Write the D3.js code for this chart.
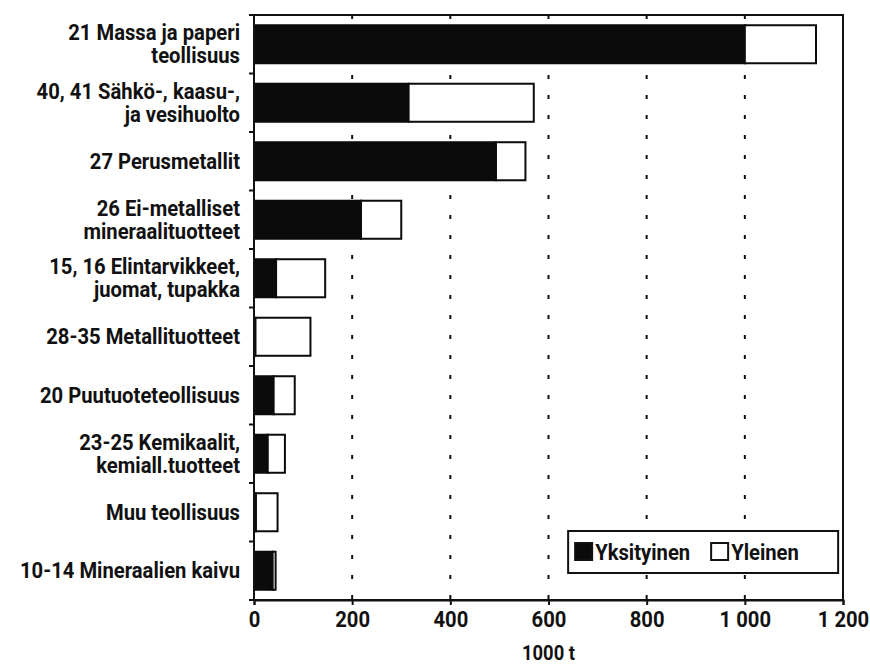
<!DOCTYPE html>
<html>
<head>
<meta charset="utf-8">
<script src="https://cdn.jsdelivr.net/npm/d3@7"></script>
<style>
  body { margin: 0; background: #fff; }
  text { font-family: Roboto, "Liberation Sans", sans-serif; font-weight: bold; fill: #111; }
</style>
</head>
<body>
<div id="svg"></div>
<script>
var width = 870;
var height = 666;

// categories, top to bottom (each entry = lines of the label)
var categories = [
	['21 Massa ja paperi', 'teollisuus'],
	['40, 41 Sähkö-, kaasu-,', 'ja vesihuolto'],
	['27 Perusmetallit'],
	['26 Ei-metalliset', 'mineraalituotteet'],
	['15, 16 Elintarvikkeet,', 'juomat, tupakka'],
	['28-35 Metallituotteet'],
	['20 Puutuoteteollisuus'],
	['23-25 Kemikaalit,', 'kemiall.tuotteet'],
	['Muu teollisuus'],
	['10-14 Mineraalien kaivu']
];
var yksityinen = [1000, 315, 493, 218, 45, 3, 40, 28, 4, 38];
var yleinen    = [145, 255, 60, 82, 100, 112, 43, 35, 44, 6];
var series_names = ['Yksityinen', 'Yleinen'];
var x_ticks = [0, 200, 400, 600, 800, 1000, 1200];
var x_title = '1000 t';

var margin = {top: 15, right: 27, bottom: 66, left: 254};
var squeeze = 'scale(0.92,1)'; // condensed look of the original typeface

var canvas = d3.select('#svg')
	.append('svg')
	.attr('width', width)
	.attr('height', height);

function main()
{
	var iw = width - margin.left - margin.right;
	var ih = height - margin.top - margin.bottom;

	var x = d3.scaleLinear().domain([0, 1200]).range([0, iw]);
	var y = d3.scaleBand().domain(d3.range(categories.length)).range([0, ih]).paddingInner(0.35).paddingOuter(0.175);

	var g = canvas.append('g').attr('transform', 'translate(' + margin.left + ',' + margin.top + ')');

	// dotted vertical grid
	g.selectAll('.grid')
		.data(x_ticks.filter((d) => d > 0 && d < 1200))
		.enter().append('line')
		.attr('x1', (d) => x(d)).attr('x2', (d) => x(d))
		.attr('y1', 0).attr('y2', ih)
		.attr('stroke', '#111').attr('stroke-width', 2)
		.attr('stroke-dasharray', '4,16');

	// stacked bars
	var rows = categories.map((c, i) => ({i: i, a: yksityinen[i], b: yleinen[i]}));
	var bar = g.selectAll('.bar').data(rows).enter().append('g');
	bar.append('rect')
		.attr('x', x(0))
		.attr('y', (d) => y(d.i))
		.attr('width', (d) => x(d.a) - x(0))
		.attr('height', y.bandwidth())
		.attr('fill', '#0b0b0b').attr('stroke', '#0b0b0b').attr('stroke-width', 2);
	bar.append('rect')
		.attr('x', (d) => x(d.a))
		.attr('y', (d) => y(d.i))
		.attr('width', (d) => x(d.a + d.b) - x(d.a))
		.attr('height', y.bandwidth())
		.attr('fill', '#fff').attr('stroke', '#0b0b0b').attr('stroke-width', 2);

	// frame
	g.append('rect')
		.attr('x', 0).attr('y', 0).attr('width', iw).attr('height', ih)
		.attr('fill', 'none').attr('stroke', '#111').attr('stroke-width', 2);

	// x axis
	var xAxis = d3.axisBottom(x)
		.tickValues(x_ticks)
		.tickSize(5)
		.tickPadding(6)
		.tickFormat((d) => d >= 1000 ? Math.floor(d / 1000) + ' ' + d3.format('03d')(d % 1000) : d);
	var ax = g.append('g').attr('transform', 'translate(0,' + ih + ')').call(xAxis);
	ax.select('.domain').attr('stroke', '#111').attr('stroke-width', 2);
	ax.selectAll('.tick line').attr('stroke', '#111').attr('stroke-width', 2);
	ax.selectAll('.tick text').style('font-size', '22px').attr('fill', '#111')
		.style('font-family', 'Roboto, sans-serif').style('font-weight', 'bold')
		.attr('transform', squeeze);

	// y boundary ticks
	var step = y.step();
	g.selectAll('.ytick')
		.data(d3.range(categories.length + 1))
		.enter().append('line')
		.attr('x1', -5).attr('x2', 0)
		.attr('y1', (d) => y(0) - y.paddingInner() * step / 2 + d * step)
		.attr('y2', (d) => y(0) - y.paddingInner() * step / 2 + d * step)
		.attr('stroke', '#111').attr('stroke-width', 2);

	// category labels
	var lab = g.selectAll('.lab').data(categories).enter().append('text')
		.attr('text-anchor', 'end')
		.style('font-size', '22px')
		.attr('transform', (d, i) => 'translate(-14,' + (y(i) + y.bandwidth() / 2) + ') ' + squeeze);
	lab.each(function(d) {
		var t = d3.select(this);
		var lh = 23;
		d.forEach((line, k) => {
			t.append('tspan')
				.attr('x', 0)
				.attr('y', (k - (d.length - 1) / 2) * lh)
				.attr('dy', '0.35em')
				.text(line);
		});
	});

	// x title
	g.append('text')
		.attr('transform', 'translate(' + (iw / 2) + ',' + (ih + 60) + ') ' + squeeze)
		.attr('text-anchor', 'middle')
		.style('font-size', '20px')
		.text(x_title);

	// legend
	var lg = g.append('g').attr('transform', 'translate(' + (x(640)) + ',' + (ih - 69) + ')');
	lg.append('rect').attr('width', 270).attr('height', 42)
		.attr('fill', '#fff').attr('stroke', '#111').attr('stroke-width', 2);
	var items = [{name: series_names[0], fill: '#0b0b0b', dx: 7}, {name: series_names[1], fill: '#fff', dx: 143}];
	items.forEach((it) => {
		lg.append('rect').attr('x', it.dx).attr('y', 12).attr('width', 17).attr('height', 17)
			.attr('fill', it.fill).attr('stroke', '#111').attr('stroke-width', 2);
		lg.append('text')
			.attr('transform', 'translate(' + (it.dx + 20) + ',21) ' + squeeze)
			.attr('dy', '0.35em')
			.style('font-size', '22px').text(it.name);
	});
}

main();
</script>
</body>
</html>
